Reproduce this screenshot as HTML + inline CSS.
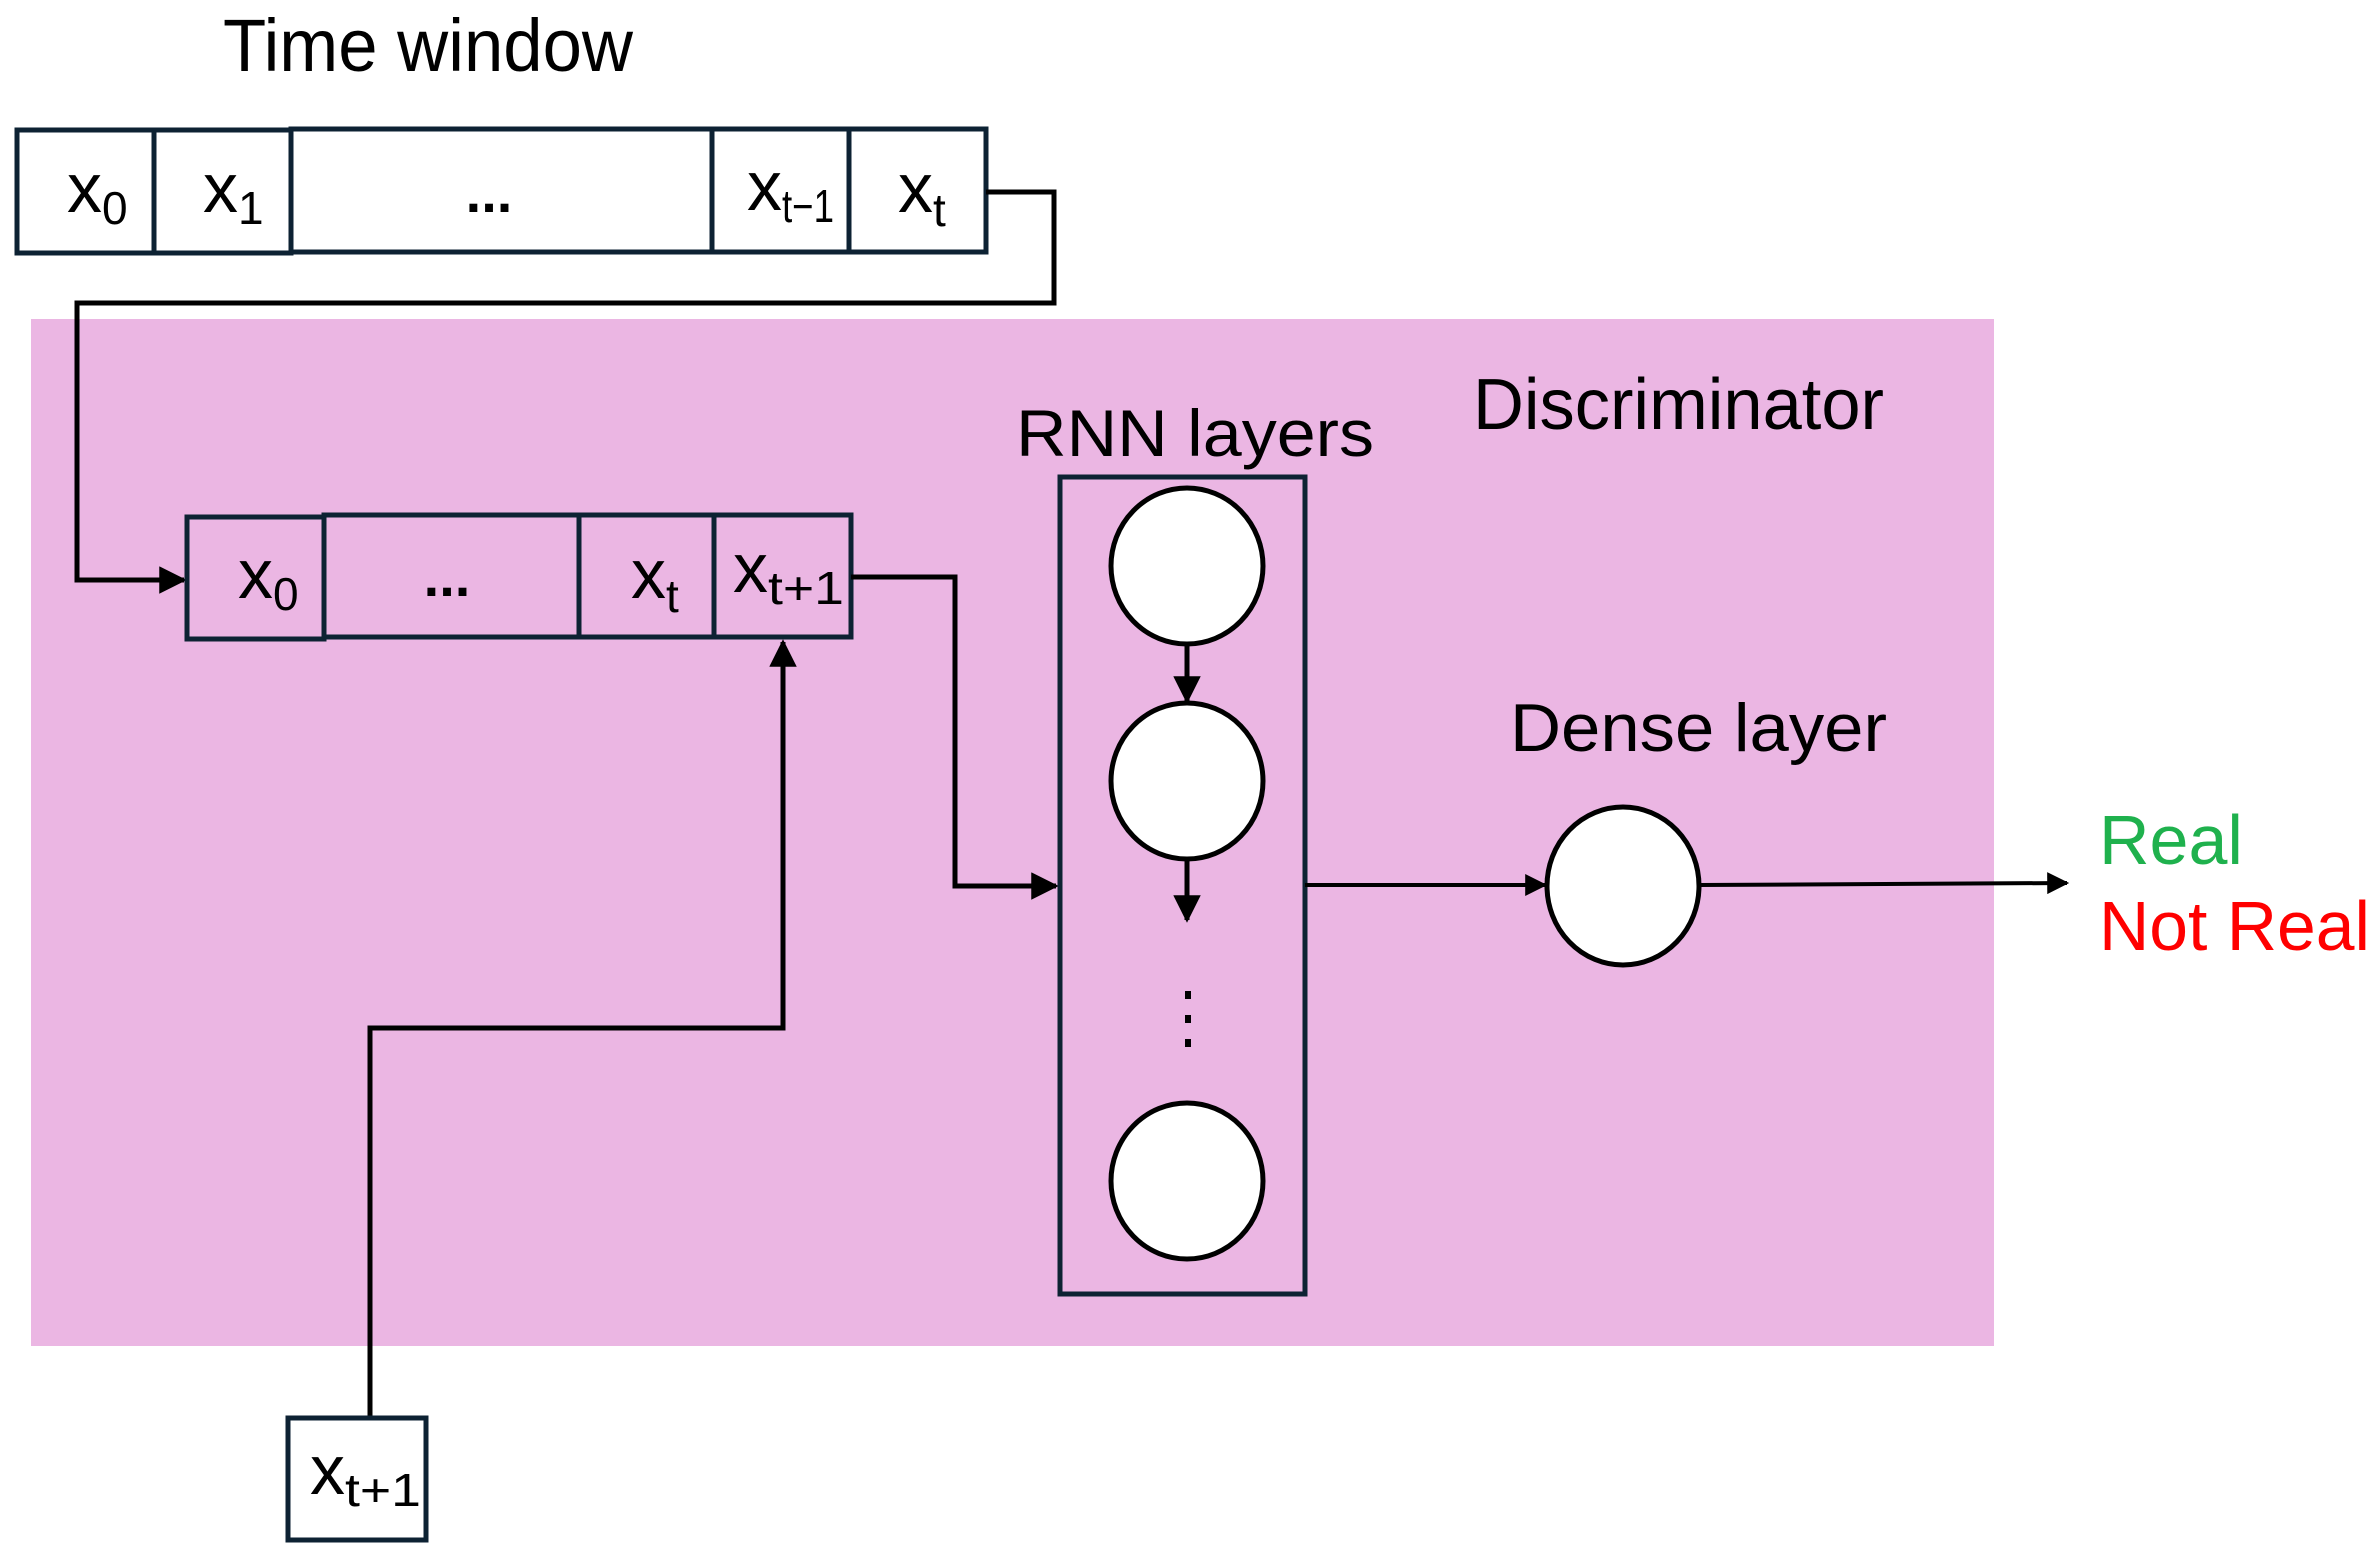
<!DOCTYPE html>
<html><head><meta charset="utf-8"><style>
html,body{margin:0;padding:0;background:#fff;}
svg{display:block;font-family:"Liberation Sans",Arial,sans-serif;}
</style></head><body>
<svg width="2379" height="1558" viewBox="0 0 2379 1558" xmlns="http://www.w3.org/2000/svg">
<defs>
<marker id="ar" viewBox="0 0 10 10" refX="9" refY="5" markerWidth="6" markerHeight="5.5" orient="auto" markerUnits="strokeWidth">
<path d="M0,0 L10,5 L0,10 z" fill="#000"/></marker>
</defs>
<rect x="31" y="319" width="1963" height="1027" fill="#ebb6e3"/>
<text x="223" y="71" font-size="74" textLength="410" lengthAdjust="spacingAndGlyphs">Time window</text>
<!-- top row -->
<g fill="#fff" stroke="#0d2233" stroke-width="5">
<rect x="17" y="130" width="137" height="123"/>
<rect x="154" y="130" width="137" height="123"/>
<rect x="291" y="129" width="421" height="123"/>
<rect x="712" y="129" width="137" height="123"/>
<rect x="849" y="129" width="137" height="123"/>
</g>
<g font-size="70">
<text x="67" y="212">x<tspan font-size="46" dy="12">0</tspan></text>
<text x="203" y="212">x<tspan font-size="46" dy="12">1</tspan></text>
<text x="489" y="212" text-anchor="middle" font-weight="bold" font-size="56">...</text>
<text x="747" y="210">x<tspan font-size="46" dy="12" textLength="52" lengthAdjust="spacingAndGlyphs">t−1</tspan></text>
<text x="898" y="212">x<tspan font-size="46" dy="14">t</tspan></text>
</g>
<!-- connector top -->
<polyline points="986,192 1054,192 1054,303 77,303 77,580 184,580" fill="none" stroke="#000" stroke-width="5" marker-end="url(#ar)"/>
<!-- second row -->
<g fill="none" stroke="#0d2233" stroke-width="5">
<rect x="187" y="517" width="137" height="122"/>
<rect x="324" y="515" width="255" height="122"/>
<rect x="579" y="515" width="135" height="122"/>
<rect x="714" y="515" width="137" height="122"/>
</g>
<g font-size="70">
<text x="238" y="598">x<tspan font-size="46" dy="12">0</tspan></text>
<text x="447" y="596" text-anchor="middle" font-weight="bold" font-size="56">...</text>
<text x="631" y="598">x<tspan font-size="46" dy="14">t</tspan></text>
<text x="733" y="592">x<tspan font-size="46" dy="12" textLength="76" lengthAdjust="spacingAndGlyphs">t+1</tspan></text>
</g>
<polyline points="851,577 955,577 955,886 1056,886" fill="none" stroke="#000" stroke-width="5" marker-end="url(#ar)"/>
<polyline points="370,1417 370,1028 783,1028 783,642" fill="none" stroke="#000" stroke-width="5" marker-end="url(#ar)"/>
<rect x="288" y="1418" width="138" height="122" fill="#fff" stroke="#0d2233" stroke-width="5"/>
<text x="310" y="1494" font-size="70">x<tspan font-size="46" dy="12" textLength="76" lengthAdjust="spacingAndGlyphs">t+1</tspan></text>
<!-- RNN -->
<text x="1016" y="456" font-size="66" textLength="358" lengthAdjust="spacingAndGlyphs">RNN layers</text>
<text x="1473" y="429" font-size="72" textLength="411" lengthAdjust="spacingAndGlyphs">Discriminator</text>
<rect x="1060" y="477" width="245" height="817" fill="none" stroke="#0d2233" stroke-width="5"/>
<g fill="#fff" stroke="#000" stroke-width="5">
<ellipse cx="1187" cy="566" rx="76" ry="78"/>
<ellipse cx="1187" cy="781" rx="76" ry="78"/>
<ellipse cx="1187" cy="1181" rx="76" ry="78"/>
<ellipse cx="1623" cy="886" rx="76" ry="79"/>
</g>
<line x1="1187" y1="644" x2="1187" y2="701" stroke="#000" stroke-width="5" marker-end="url(#ar)"/>
<line x1="1187" y1="859" x2="1187" y2="920" stroke="#000" stroke-width="5" marker-end="url(#ar)"/>
<g fill="#000"><rect x="1185" y="991" width="6" height="8"/><rect x="1185" y="1015" width="6" height="8"/><rect x="1185" y="1039" width="6" height="8"/></g>
<line x1="1305" y1="885" x2="1545" y2="885" stroke="#000" stroke-width="4" marker-end="url(#ar)"/>
<text x="1510" y="751" font-size="68" textLength="377" lengthAdjust="spacingAndGlyphs">Dense layer</text>
<line x1="1699" y1="885" x2="2067" y2="883" stroke="#000" stroke-width="4" marker-end="url(#ar)"/>
<text x="2099" y="864" font-size="70" fill="#1fb14d">Real</text>
<text x="2099" y="950" font-size="70" fill="#ff0000" textLength="271" lengthAdjust="spacingAndGlyphs">Not Real</text>
</svg>
</body></html>
